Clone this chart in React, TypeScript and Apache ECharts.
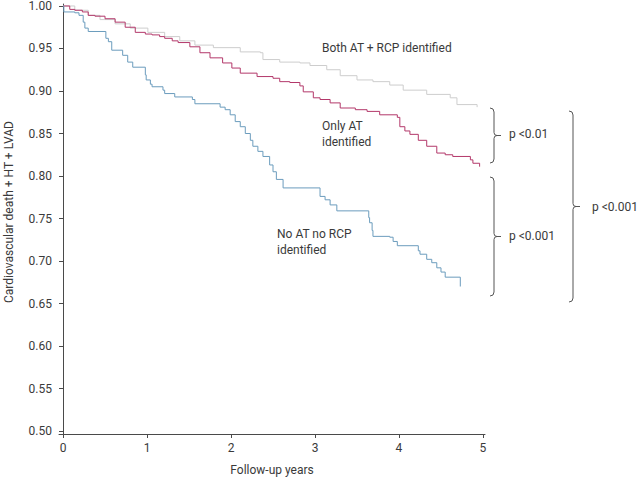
import { useEffect, useRef } from 'react';
import * as echarts from 'echarts';

// Kaplan-Meier style event points (time in years, survival)
const bothTime = [0, 0.14, 0.3, 0.44, 0.62, 0.8, 1.01, 1.21, 1.39, 1.57, 1.79, 2.11, 2.35, 2.38, 2.58, 2.82, 2.94, 3.14, 3.3, 3.5, 3.69, 3.89, 4.05, 4.33, 4.61, 4.69, 4.93];
const bothSurv = [1.0, 0.995, 0.989, 0.984, 0.979, 0.974, 0.969, 0.964, 0.959, 0.954, 0.951, 0.946, 0.945, 0.937, 0.934, 0.933, 0.93, 0.925, 0.918, 0.913, 0.911, 0.907, 0.901, 0.896, 0.892, 0.884, 0.881];

const atTime = [0, 0.08, 0.14, 0.23, 0.3, 0.38, 0.5, 0.62, 0.74, 0.86, 0.98, 1.06, 1.15, 1.21, 1.3, 1.37, 1.51, 1.63, 1.75, 1.9, 2.01, 2.11, 2.31, 2.5, 2.58, 2.7, 2.82, 2.86, 2.98, 3.06, 3.18, 3.3, 3.48, 3.62, 3.77, 3.98, 4.01, 4.07, 4.13, 4.23, 4.33, 4.45, 4.55, 4.64, 4.85, 4.88, 4.96];
const atSurv = [1.0, 0.996, 0.995, 0.993, 0.989, 0.988, 0.985, 0.981, 0.975, 0.969, 0.967, 0.966, 0.964, 0.962, 0.959, 0.957, 0.952, 0.945, 0.939, 0.933, 0.927, 0.921, 0.917, 0.915, 0.911, 0.91, 0.906, 0.899, 0.892, 0.89, 0.886, 0.88, 0.878, 0.876, 0.872, 0.869, 0.858, 0.853, 0.849, 0.842, 0.835, 0.827, 0.825, 0.823, 0.819, 0.815, 0.811];

const noneTime = [0, 0.01, 0.14, 0.19, 0.24, 0.26, 0.3, 0.51, 0.54, 0.58, 0.71, 0.77, 0.83, 0.98, 0.99, 1.04, 1.06, 1.19, 1.21, 1.33, 1.54, 1.57, 1.87, 1.93, 1.99, 2.05, 2.11, 2.17, 2.23, 2.26, 2.32, 2.38, 2.46, 2.5, 2.54, 2.62, 3.06, 3.12, 3.18, 3.26, 3.64, 3.65, 3.68, 3.69, 3.89, 3.93, 3.98, 4.23, 4.25, 4.33, 4.39, 4.45, 4.5, 4.55, 4.73, 4.73];
const noneSurv = [1.0, 0.993, 0.992, 0.989, 0.981, 0.974, 0.97, 0.962, 0.958, 0.948, 0.942, 0.934, 0.928, 0.919, 0.913, 0.908, 0.905, 0.901, 0.897, 0.893, 0.89, 0.885, 0.881, 0.878, 0.872, 0.864, 0.858, 0.85, 0.842, 0.835, 0.829, 0.823, 0.813, 0.805, 0.796, 0.786, 0.776, 0.772, 0.766, 0.759, 0.751, 0.745, 0.736, 0.729, 0.728, 0.723, 0.718, 0.712, 0.708, 0.702, 0.698, 0.692, 0.687, 0.681, 0.681, 0.67];

const xTicks = [0, 1, 2, 3, 4, 5];
const yTicks = [0.5, 0.55, 0.6, 0.65, 0.7, 0.75, 0.8, 0.85, 0.9, 0.95, 1.0];

const FONT = 'Roboto, "Noto Sans", sans-serif';
const TEXT_COLOR = '#3a3a3a';
const AXIS_COLOR = '#4a4a4a';

// right-facing curly brace as svg path data
const braceD = (x0: number, top: number, bot: number): string => {
  const x1 = x0 + 4;
  const mid = (top + bot) / 2;
  return (
    `M${x0} ${top} Q${x1} ${top} ${x1} ${top + 4} L${x1} ${mid - 3} ` +
    `Q${x1} ${mid} ${x1 + 3} ${mid} L${x1 + 7} ${mid} ` +
    `M${x1 + 3} ${mid} Q${x1} ${mid} ${x1} ${mid + 3} L${x1} ${bot - 4} ` +
    `Q${x1} ${bot} ${x0} ${bot}`
  );
};

echarts.graphic.registerShape('brace1', echarts.graphic.extendPath(braceD(490, 108, 163), {}));
echarts.graphic.registerShape('brace2', echarts.graphic.extendPath(braceD(490, 177, 296), {}));
echarts.graphic.registerShape('brace3', echarts.graphic.extendPath(braceD(569, 111, 302), {}));

const pairs = (t: number[], s: number[]) => t.map((v, i) => [v, s[i]]);

export default function App() {
  const chartRef = useRef<HTMLDivElement>(null);

  useEffect(() => {
    if (!chartRef.current) return;
    document.body.style.margin = '0';

    const chart = echarts.init(chartRef.current, null, { renderer: 'svg' });

    const braceStyle = { stroke: '#555', fill: 'none', lineWidth: 1 };
    const label = (text: string, x: number, y: number) => ({
      type: 'text',
      x,
      y,
      style: {
        text,
        fill: TEXT_COLOR,
        font: `12px ${FONT}`,
        lineHeight: 16,
        verticalAlign: 'middle',
      },
    });

    const option: echarts.EChartsOption = {
      animation: false,
      grid: { left: 59, right: 155, top: 4, bottom: 46 },
      xAxis: {
        type: 'value',
        min: -0.048,
        max: 5.024,
        name: 'Follow-up years',
        nameLocation: 'middle',
        nameGap: 30,
        nameTextStyle: { color: TEXT_COLOR, fontSize: 12, fontFamily: FONT },
        axisLine: { lineStyle: { color: AXIS_COLOR, width: 1 } },
        axisTick: { customValues: xTicks, length: 4, lineStyle: { color: AXIS_COLOR } },
        axisLabel: {
          customValues: xTicks,
          color: TEXT_COLOR,
          fontSize: 12,
          fontFamily: FONT,
          margin: 8,
        },
        splitLine: { show: false },
      },
      yAxis: {
        type: 'value',
        min: 0.4965,
        max: 1.0023,
        axisLine: { show: true, lineStyle: { color: AXIS_COLOR, width: 1 } },
        axisTick: { show: true, customValues: yTicks, length: 4, lineStyle: { color: AXIS_COLOR } },
        axisLabel: {
          customValues: yTicks,
          formatter: (v: number) => v.toFixed(2),
          color: TEXT_COLOR,
          fontSize: 12,
          fontFamily: FONT,
          margin: 7,
        },
        splitLine: { show: false },
      },
      series: [
        {
          name: 'Both AT + RCP identified',
          type: 'line',
          step: 'end',
          showSymbol: false,
          data: pairs(bothTime, bothSurv),
          lineStyle: { color: '#cdcdcd', width: 1 },
        },
        {
          name: 'Only AT identified',
          type: 'line',
          step: 'end',
          showSymbol: false,
          data: pairs(atTime, atSurv),
          lineStyle: { color: '#b3386a', width: 1 },
        },
        {
          name: 'No AT no RCP identified',
          type: 'line',
          step: 'end',
          showSymbol: false,
          data: pairs(noneTime, noneSurv),
          lineStyle: { color: '#6b9cbd', width: 1 },
        },
      ],
      graphic: [
        {
          type: 'text',
          x: 9,
          y: 212,
          rotation: Math.PI / 2,
          style: {
            text: 'Cardiovascular death + HT + LVAD',
            fill: TEXT_COLOR,
            font: `12px ${FONT}`,
            align: 'center',
            verticalAlign: 'middle',
          },
        },
        label('Both AT + RCP identified', 322, 48),
        label('Only AT\nidentified', 322, 134),
        label('No AT no RCP\nidentified', 277, 242),
        { type: 'brace1', style: braceStyle },
        { type: 'brace2', style: braceStyle },
        { type: 'brace3', style: braceStyle },
        label('p <0.01', 509, 134),
        label('p <0.001', 509, 236),
        label('p <0.001', 592, 207),
      ] as any,
    };

    chart.setOption(option);

    return () => {
      chart.dispose();
    };
  }, []);

  return <div ref={chartRef} style={{ width: 640, height: 481 }} />;
}
